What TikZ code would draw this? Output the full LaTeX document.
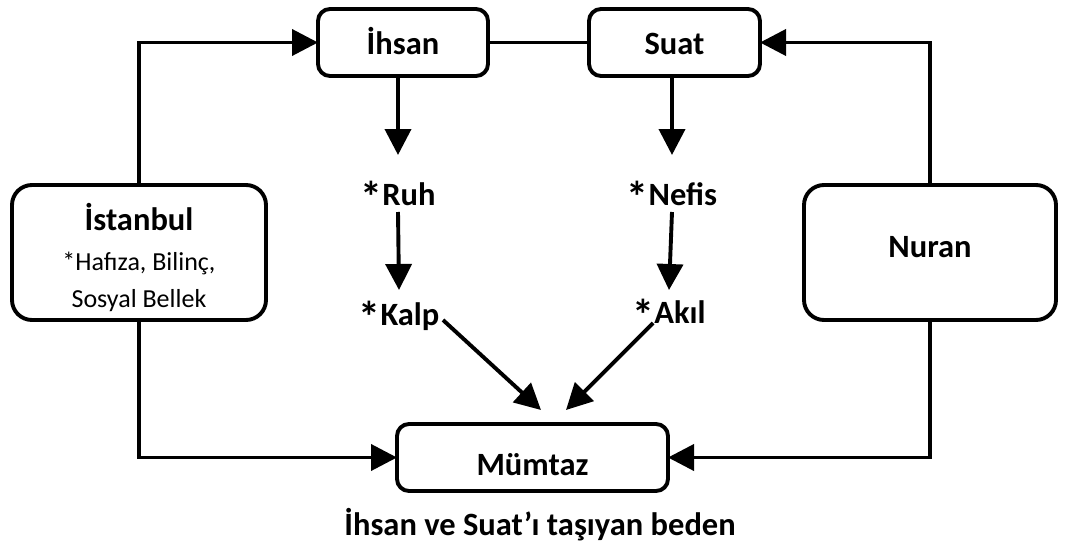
\documentclass[tikz,border=0pt]{standalone}
\usepackage{fontspec}
\setmainfont{Carlito}
\usetikzlibrary{arrows.meta}
% a slightly heavier star in front of the inner words
\newcommand\wordstar{\raisebox{-7pt}{\scalebox{1.35}{*}}}
\begin{document}
\begin{tikzpicture}[x=1pt,y=-1pt,
  every node/.style={inner sep=0pt, outer sep=0pt},
  big/.style={font=\fontsize{32.5}{38}\selectfont\bfseries},
  small/.style={font=\fontsize{26}{37}\selectfont},
  word/.style={big, anchor=base, text height=23pt, text depth=7pt},
  topbox/.style={draw, line width=3.9pt, rounded corners=12pt, big, text depth=0pt},
  sidebox/.style={draw, line width=3.9pt, rounded corners=20pt, big, text depth=0pt},
  link/.style={line width=3.9pt},
  arr/.style={line width=3.9pt, -{Triangle[length=26pt,width=26pt]}},
]
\useasboundingbox (0,0) rectangle (1081,543);

% top pair
\node[topbox, text height=25pt, minimum width=170pt, minimum height=67pt] (ihsan) at (403,42.5) {İhsan};
\node[topbox, text height=25pt, minimum width=171pt, minimum height=67pt] (suat) at (674.5,42.5) {Suat};

% side boxes
\node[sidebox, minimum width=254pt, minimum height=135pt] (istanbul) at (139,252.5) {};
\node[big, anchor=base] (istlbl) at (139,230) {İstanbul};
\node[small, anchor=base] (ist2) at (139,270) {*Hafıza, Bilinç,};
\node[small, anchor=base] (ist3) at (139,307) {Sosyal Bellek};
\node[sidebox, text height=9pt, minimum width=252pt, minimum height=135pt] (nuran) at (930,252.5) {Nuran};

% bottom box and caption
\node[topbox, text height=35pt, minimum width=271pt, minimum height=67pt] (mumtaz) at (532.5,457.5) {Mümtaz};
\node[big, anchor=base] (caption) at (540,535) {İhsan ve Suat’ı taşıyan beden};

% inner words
\node[word] (ruh) at (398,205) {\wordstar Ruh};
\node[word] (kalp) at (399,325) {\wordstar Kalp};
\node[word] (nefis) at (672,205) {\wordstar Nefis};
\node[word] (akil) at (669,323) {\wordstar Akıl};

\coordinate (kalpout) at (443,320);
\coordinate (akilout) at (653,323);
\coordinate (kalpin) at (541,410);
\coordinate (akilin) at (566,410);

% connectors
\draw[link] (ihsan.east) -- (suat.west);
\draw[arr] (istanbul.north) |- (ihsan.west);
\draw[arr] (nuran.north) |- (suat.east);
\draw[arr] (istanbul.south) |- (mumtaz.west);
\draw[arr] (nuran.south) |- (mumtaz.east);

\draw[arr] (ihsan.south -| ruh) -- ([yshift=27pt]ruh.north);
\draw[arr] (ruh.south) -- ([yshift=12pt]kalp.north);
\draw[arr] (suat.south -| nefis) -- ([yshift=27pt]nefis.north);
\draw[arr] (nefis.south) -- ([yshift=10pt]akil.north);

\draw[arr] (kalpout) -- (kalpin);
\draw[arr] (akilout) -- (akilin);
\end{tikzpicture}
\end{document}
